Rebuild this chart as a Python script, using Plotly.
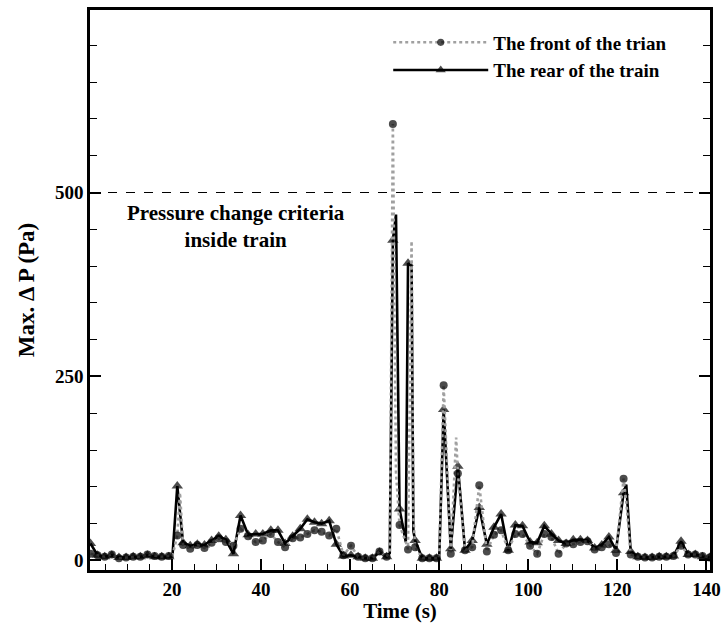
import plotly.graph_objects as go

# Sample times (s) and maximum pressure change (Pa) at the train front / rear
time_s = [
    1.7, 3.3, 4.9, 6.5, 8.1, 9.7, 11.3, 12.9, 14.5, 16.1, 17.7, 19.3, 20.1,
    21.2, 21.8, 22.5, 24.1, 25.7, 27.3, 28.9, 30.5, 32.1, 33.8, 35.4, 37.1,
    38.8, 40.4, 42.2, 43.8, 45.4, 47.1, 48.8, 50.4, 52.0, 53.6, 55.3, 56.9,
    58.5, 60.2, 61.8, 63.4, 65.0, 66.6, 68.2, 68.9, 69.6, 70.3, 71.1, 72.5,
    73.0, 73.8, 74.2, 74.6, 76.2, 77.8, 79.4, 80.0, 81.0, 82.6, 83.8, 84.2,
    85.8, 87.4, 89.0, 90.7, 92.3, 93.9, 95.5, 97.1, 98.7, 100.4, 102.0, 103.6,
    105.2, 106.8, 108.5, 110.1, 111.7, 113.3, 114.9, 116.5, 118.1, 119.7,
    121.4, 122.0, 123.0, 124.6, 126.2, 127.8, 129.4, 131.0, 132.6, 134.3,
    135.9, 137.5, 139.1, 140.7,
]
front_pa = [
    9, 7, 5, 8, 3, 4, 5, 5, 8, 6, 5, 6, 6,
    34, 92, 21, 16, 21, 17, 24, 30, 25, 20, 43, 33,
    25, 27, 36, 25, 18, 30, 31, 36, 41, 39, 34, 43,
    7, 20, 5, 3, 3, 12, 5, 12, 593, 120, 48, 25,
    15, 434, 60, 18, 3, 3, 3, 3, 238, 9, 167, 118,
    14, 18, 102, 12, 35, 41, 14, 36, 36, 20, 9, 36,
    32, 9, 23, 22, 25, 26, 15, 18, 22, 10,
    111, 80, 8, 5, 4, 4, 5, 5, 6, 20,
    8, 8, 6, 4,
]
rear_pa = [
    23, 7, 5, 7, 4, 4, 5, 5, 7, 5, 5, 5, 5,
    101, 62, 24, 20, 22, 21, 27, 33, 28, 9, 61, 35,
    36, 36, 41, 41, 23, 33, 43, 56, 52, 50, 54, 22,
    6, 7, 5, 3, 3, 11, 5, 10, 435, 470, 70, 25,
    404, 400, 40, 27, 3, 3, 3, 3, 205, 16, 100, 128,
    14, 27, 72, 22, 45, 63, 14, 48, 47, 25, 24, 47,
    36, 27, 23, 28, 28, 27, 17, 21, 32, 14,
    92, 103, 12, 5, 4, 4, 5, 5, 6, 26,
    8, 8, 5, 4,
]
criterion_pa = 500

x_ticks = [20, 40, 60, 80, 100, 120, 140]
y_ticks = [0, 250, 500]

# Interior samples that are drawn without a symbol
unmarked_times = {20.1, 21.8, 68.9, 70.3, 72.5, 73.8, 74.2, 80.0, 83.8, 122.0}

FONT = "Liberation Serif"


def marker_sizes(size):
    return [0 if t in unmarked_times else size for t in time_s]


fig = go.Figure()

fig.add_trace(go.Scatter(
    x=time_s, y=rear_pa, mode="lines+markers",
    name="The rear of the train", legendrank=2,
    line=dict(color="black", width=2.6),
    marker=dict(symbol="triangle-up", color="black", size=marker_sizes(10),
                line=dict(width=0)),
))
fig.add_trace(go.Scatter(
    x=time_s, y=front_pa, mode="lines+markers",
    name="The front of the trian", legendrank=1,
    line=dict(color="#a0a0a0", width=2.6, dash="dot"),
    marker=dict(symbol="circle", color="black", size=marker_sizes(8),
                line=dict(width=0)),
))

# Pressure criterion inside the train
fig.add_shape(type="line", xref="paper", x0=0, x1=1, yref="y",
              y0=criterion_pa, y1=criterion_pa,
              line=dict(color="black", width=1.2, dash="dash"))
fig.add_annotation(
    xref="paper", yref="paper", x=0.235, y=0.613,
    xanchor="center", yanchor="middle",
    text="Pressure change criteria<br>inside train", showarrow=False,
    font=dict(family=FONT, size=21, color="black", weight="bold"),
    align="center",
)

axis_common = dict(
    showline=True, linecolor="black", linewidth=2.5,
    ticks="inside", tickcolor="black", tickwidth=2, ticklen=11,
    showgrid=False, zeroline=False,
    tickfont=dict(family=FONT, size=19, color="black", weight="bold"),
)

fig.update_xaxes(
    **axis_common, range=[1.6, 140.8], tickvals=x_ticks, mirror=True,
    minor=dict(dtick=5, tick0=0, ticks="inside", ticklen=6, tickwidth=1,
               tickcolor="black"),
    title=dict(text="Time (s)", standoff=2,
               font=dict(family=FONT, size=21, color="black", weight="bold")),
)
fig.update_yaxes(
    **axis_common, range=[-13, 748], tickvals=y_ticks, mirror="ticks",
    minor=dict(dtick=50, tick0=0, ticks="inside", ticklen=7, tickwidth=1,
               tickcolor="black"),
    title=dict(text="Max. \u0394 P (Pa)", standoff=14,
               font=dict(family=FONT, size=23, color="black", weight="bold")),
)

fig.update_layout(
    width=728, height=623,
    margin=dict(l=90, r=12, t=7, b=51),
    paper_bgcolor="white", plot_bgcolor="white",
    showlegend=True,
    legend=dict(
        x=0.481, y=0.976, xanchor="left", yanchor="top",
        bgcolor="rgba(0,0,0,0)", traceorder="normal",
        font=dict(family=FONT, size=19, color="black", weight="bold"),
        itemwidth=95, tracegroupgap=0,
    ),
)

fig.write_html("out.html")
